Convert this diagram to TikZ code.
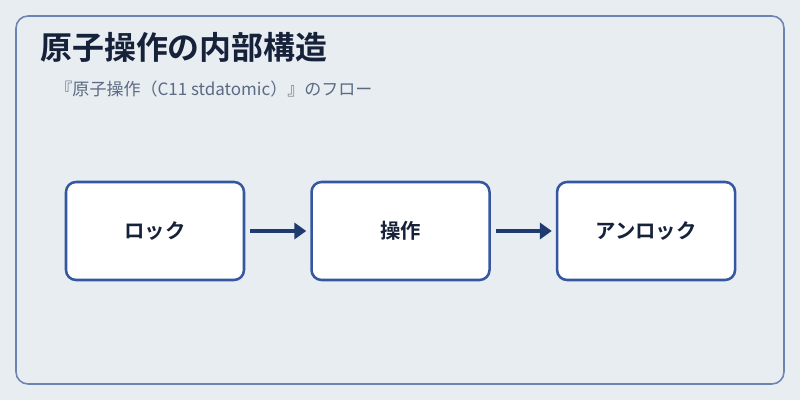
\documentclass[tikz,border=0pt]{standalone}
\usepackage{fontspec}
\setmainfont{Noto Sans CJK JP}[BoldFont={Noto Sans CJK JP Bold}]
\usepackage{xcolor}
\usetikzlibrary{arrows.meta,positioning}

\definecolor{bgcol}{HTML}{E8EDF2}
\definecolor{framecol}{HTML}{6C85B0}
\definecolor{boxcol}{HTML}{3457A0}
\definecolor{arrowcol}{HTML}{1F3A6E}
\definecolor{titlecol}{HTML}{16213A}
\definecolor{subcol}{HTML}{5B6A82}

\begin{document}
\begin{tikzpicture}[
    node distance=1.625cm,
    box/.style={rectangle, rounded corners=0.25cm, draw=boxcol, line width=1.8pt, fill=white,
                minimum width=4.45cm, minimum height=2.45cm, align=center,
                font=\bfseries\fontsize{14.5}{17}\selectfont, text=titlecol},
    arrow/.style={-{Triangle[length=8.5pt,width=11.5pt]}, line width=2.2pt, draw=arrowcol,
                  shorten <=0.125cm, shorten >=0.1cm}
]
% canvas and frame
\fill[bgcol] (0,0) rectangle (20,10);
\useasboundingbox (0,0) rectangle (20,10);
\draw[framecol, line width=1.1pt, rounded corners=0.3cm] (0.4,0.4) rectangle (19.6,9.6);

% heading
\node[anchor=west, inner sep=0pt, text=titlecol, font=\bfseries\fontsize{22.7}{25}\selectfont] (title) at (1.0,8.825) {原子操作の内部構造};
\node[anchor=west, inner sep=0pt, text=subcol, font=\fontsize{12.1}{14}\selectfont] (subtitle) at (1.38,7.775) {『原子操作（C11 stdatomic）』のフロー};

% flow
\node[box] (lock) at (3.875,4.225) {ロック};
\node[box, right=of lock] (op) {操作};
\node[box, right=of op] (unlock) {アンロック};

\draw[arrow] (lock) -- (op);
\draw[arrow] (op) -- (unlock);
\end{tikzpicture}
\end{document}
